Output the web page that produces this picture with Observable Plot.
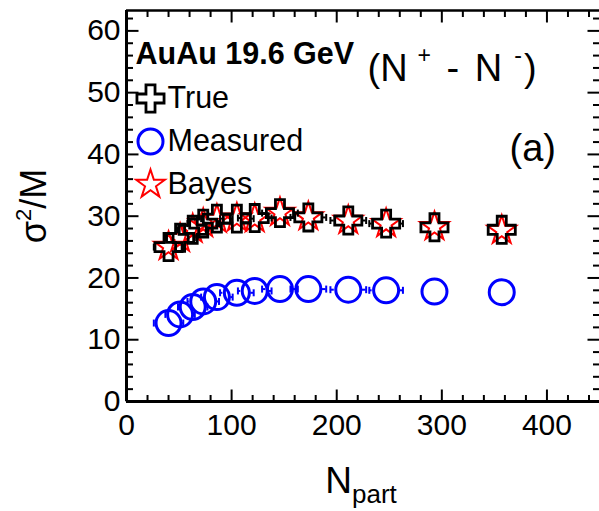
<!DOCTYPE html>
<html><head><meta charset="utf-8">
<script src="https://cdn.jsdelivr.net/npm/d3@7"></script>
<script src="https://cdn.jsdelivr.net/npm/@observablehq/plot@0.6"></script>
<style>body{margin:0;background:#fff}</style>
</head><body><div id="chart"></div>
<script>
// ---- data ----
const npart = [40, 51, 63, 73, 86, 105, 122, 146, 173, 211, 247, 293, 357];
const npartErr = [14, 14, 14, 15, 15, 16, 16, 17, 17, 17, 16, 10, 5];
const trueVals = [25.0, 26.5, 27.8, 28.8, 29.6, 29.6, 29.7, 30.5, 29.8, 29.3, 28.8, 28.2, 27.8];
const measuredVals = [12.7, 14.1, 15.3, 16.2, 16.9, 17.6, 17.9, 18.2, 18.2, 18.1, 18.0, 17.8, 17.7];
const bayesVals = [25.1, 26.4, 27.9, 28.8, 29.5, 29.7, 29.6, 30.6, 29.9, 29.3, 28.8, 28.3, 27.7];
const seriesNames = ["True", "Measured", "Bayes"];
const xMajorTicks = [0, 100, 200, 300, 400];
const yMajorTicks = [0, 10, 20, 30, 40, 50, 60];
const xDomain = [0, 450];
const yDomain = [0, 63.3];
const titleText = "AuAu 19.6 GeV";
const chargeText = "(N+ - N-)";
const panelText = "(a)";
const xLabelText = "Npart";
const yLabelText = "σ2/M";

// ---- layout / style ----
const W = 599, H = 511, mL = 126, mR = 0, mT = 10, mB = 110;
const pxPerX = (W - mL - mR) / (xDomain[1] - xDomain[0]);
const font = "'Liberation Sans', Arial, Helvetica, sans-serif";

const xMinorTicks = d3.range(0, 450, 20).filter(v => v % 100 !== 0);
const yMinorTicks = d3.range(0, 63, 2).filter(v => v % 10 !== 0);

const vLine = (a, b) => ({draw(ctx) { ctx.moveTo(0, a); ctx.lineTo(0, b); }});
const hLine = (a, b) => ({draw(ctx) { ctx.moveTo(a, 0); ctx.lineTo(b, 0); }});

const styles = {
  True: {symbol: "cross", r: 11.4, stroke: "#000000", strokeWidth: 2.8, outer: 14},
  Measured: {symbol: "circle", r: 12.5, stroke: "#0000ff", strokeWidth: 3, outer: 14},
  Bayes: {symbol: "star", r: 9, stroke: "#ff0000", strokeWidth: 2, outer: 14}
};
const valuesBy = {True: trueVals, Measured: measuredVals, Bayes: bayesVals};
const series = seriesNames.map(name => ({
  name, ...styles[name],
  data: npart.map((x, i) => ({x, ex: npartErr[i], y: valuesBy[name][i]}))
}));

function errMarks(s) {
  const rIn = s.outer / pxPerX;
  const d = s.data.filter(p => p.ex > rIn);
  const caps = d.flatMap(p => [{x: p.x - p.ex, y: p.y}, {x: p.x + p.ex, y: p.y}]);
  return [
    Plot.ruleY(d, {y: "y", x1: p => p.x + rIn, x2: p => p.x + p.ex, stroke: s.stroke, strokeWidth: 2}),
    Plot.ruleY(d, {y: "y", x1: p => p.x - rIn, x2: p => p.x - p.ex, stroke: s.stroke, strokeWidth: 2}),
    Plot.dot(caps, {x: "x", y: "y", symbol: vLine(-3.5, 3.5), stroke: s.stroke, fill: "none", strokeWidth: 2})
  ];
}
function pointMarks(s) {
  return Plot.dot(s.data, {x: "x", y: "y", symbol: s.symbol, r: s.r, stroke: s.stroke, fill: "none", strokeWidth: s.strokeWidth});
}
const S = Object.fromEntries(series.map(s => [s.name, s]));

const legendMarks = series.flatMap((s, i) => [
  Plot.dot([s], {frameAnchor: "top-left", dx: 24, dy: 88 + 43 * i, symbol: s.symbol, r: s.r, stroke: s.stroke, fill: "none", strokeWidth: s.strokeWidth}),
  Plot.text([s.name], {text: d => d, frameAnchor: "top-left", dx: 41, dy: 87.4 + 43 * i, textAnchor: "start", lineAnchor: "middle", fontSize: 30.5, fill: "black"})
]);

const tickStroke = {stroke: "black", fill: "none", strokeWidth: 2};

const svg = Plot.plot({
  width: W, height: H,
  marginLeft: mL, marginRight: mR, marginTop: mT, marginBottom: mB,
  style: {fontFamily: font, background: "white", color: "black", overflow: "visible"},
  x: {domain: xDomain},
  y: {domain: yDomain},
  marks: [
    // frame lines
    Plot.ruleX([xDomain[0]], {stroke: "black", strokeWidth: 3}),
    Plot.ruleY([yDomain[0]], {stroke: "black", strokeWidth: 3}),
    Plot.ruleY([yDomain[1]], {stroke: "black", strokeWidth: 2.5}),
    // inward ticks
    Plot.dot(xMajorTicks, {x: d => d, frameAnchor: "bottom", symbol: vLine(0, -12), ...tickStroke}),
    Plot.dot(xMinorTicks, {x: d => d, frameAnchor: "bottom", symbol: vLine(0, -6.5), ...tickStroke}),
    Plot.dot(xMajorTicks, {x: d => d, frameAnchor: "top", symbol: vLine(0, 12), ...tickStroke}),
    Plot.dot(xMinorTicks, {x: d => d, frameAnchor: "top", symbol: vLine(0, 6.5), ...tickStroke}),
    Plot.dot(yMajorTicks, {y: d => d, frameAnchor: "left", symbol: hLine(0, 12), ...tickStroke}),
    Plot.dot(yMinorTicks, {y: d => d, frameAnchor: "left", symbol: hLine(0, 6.5), ...tickStroke}),
    Plot.dot(yMajorTicks, {y: d => d, frameAnchor: "right", symbol: hLine(0, -12), ...tickStroke}),
    Plot.dot(yMinorTicks, {y: d => d, frameAnchor: "right", symbol: hLine(0, -6.5), ...tickStroke}),
    // axes labels
    Plot.axisX({ticks: xMajorTicks, tickSize: 0, tickPadding: 12, fontSize: 30, label: null, tickFormat: d => String(d)}),
    Plot.axisY({ticks: yMajorTicks, tickSize: 0, tickPadding: 6, fontSize: 30, label: null, tickFormat: d => String(d)}),
    // data
    ...errMarks(S.Measured),
    pointMarks(S.Measured),
    pointMarks(S.Bayes),
    ...errMarks(S.True),
    pointMarks(S.True),
    // legend & annotations
    Plot.text([titleText], {text: d => d, frameAnchor: "top-left", dx: 9, dy: 43.5, textAnchor: "start", lineAnchor: "middle", fontSize: 30.5, fontWeight: "bold", fill: "black"}),
    ...legendMarks,
    Plot.text([chargeText], {text: d => d, frameAnchor: "top-left", dx: 241, dy: 58, textAnchor: "start", lineAnchor: "middle", fontSize: 38, fill: "black"}),
    Plot.text([panelText], {text: d => d, frameAnchor: "top-left", dx: 383, dy: 138, textAnchor: "start", lineAnchor: "middle", fontSize: 38, fill: "black"}),
    Plot.text([xLabelText], {text: d => d, frameAnchor: "bottom", dy: 80, dx: -2, textAnchor: "middle", lineAnchor: "middle", fontSize: 37, fill: "black"}),
    Plot.text([yLabelText], {text: d => d, frameAnchor: "left", dx: -92, rotate: -90, textAnchor: "middle", lineAnchor: "middle", fontSize: 36, fill: "black"})
  ]
});

// rich text (super/subscripts) as tspans
const NS = "http://www.w3.org/2000/svg";
function richText(content, parts) {
  const t = Array.from(svg.querySelectorAll("text")).find(e => e.textContent === content);
  if (!t) return;
  t.textContent = "";
  for (const p of parts) {
    const ts = document.createElementNS(NS, "tspan");
    ts.textContent = p.t;
    if (p.size) ts.setAttribute("font-size", p.size);
    if (p.dy) ts.setAttribute("dy", p.dy);
    if (p.dx) ts.setAttribute("dx", p.dx);
    t.appendChild(ts);
  }
}
richText(chargeText, [
  {t: "(N"}, {t: "+", size: 23, dy: -18, dx: 10}, {t: " -", size: 38, dy: 18, dx: 5},
  {t: " N", size: 38, dx: 5}, {t: "-", size: 23, dy: -18, dx: 12}, {t: ")", size: 38, dy: 18, dx: 2}
]);
richText(xLabelText, [{t: "N"}, {t: "part", size: 26, dy: 10}]);
richText(yLabelText, [{t: "σ"}, {t: "2", size: 22, dy: -15}, {t: "/M", size: 36, dy: 15}]);

document.getElementById("chart").appendChild(svg);
</script>
</body></html>
